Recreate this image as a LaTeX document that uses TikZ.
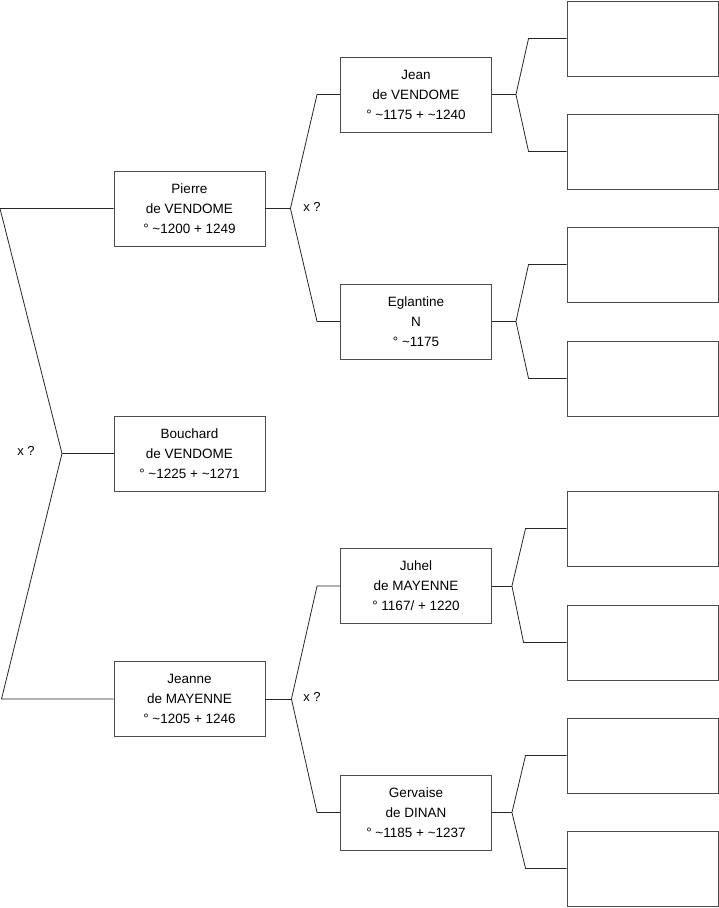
\documentclass[tikz,border=0pt]{standalone}
\usepackage{fontspec}
\setmainfont{Liberation Sans}
\begin{document}
\begin{tikzpicture}[x=1pt, y=-1pt,
    person/.style={draw=black!70, line width=0.9pt, minimum width=151pt, minimum height=75pt,
        inner sep=0pt, align=center, font=\fontsize{13.5}{20}\selectfont},
    link/.style={black!85, line width=0.8pt},
    couplemark/.style={font=\fontsize{13}{15}\selectfont}]
\useasboundingbox (0,0) rectangle (719,908);
% generation 1
\node[person] (bouchard) at (189.5,453.5) {Bouchard\\de VENDOME\\° \textasciitilde1225 + \textasciitilde1271};
% generation 2
\node[person] (pierre) at (189.5,208.5) {Pierre\\de VENDOME\\° \textasciitilde1200 + 1249};
\node[person] (jeanne) at (189.5,699) {Jeanne\\de MAYENNE\\° \textasciitilde1205 + 1246};
% generation 3
\node[person] (jean) at (416,94.5) {Jean\\de VENDOME\\° \textasciitilde1175 + \textasciitilde1240};
\node[person] (eglantine) at (416,321.5) {Eglantine\\N\\° \textasciitilde1175};
\node[person] (juhel) at (416,586) {Juhel\\de MAYENNE\\° 1167/ + 1220};
\node[person] (gervaise) at (416,812.5) {Gervaise\\de DINAN\\° \textasciitilde1185 + \textasciitilde1237};
% generation 4 (empty)
\node[person] (e1) at (642.5,38.5) {};
\node[person] (e2) at (642.5,151.5) {};
\node[person] (e3) at (642.5,264.5) {};
\node[person] (e4) at (642.5,378.5) {};
\node[person] (e5) at (642.5,528.5) {};
\node[person] (e6) at (642.5,642.5) {};
\node[person] (e7) at (642.5,755.5) {};
\node[person] (e8) at (642.5,868.5) {};
% couples
\node[couplemark] (m0) at (26,451) {x ?};
\node[couplemark] (m1) at (312,207) {x ?};
\node[couplemark] (m2) at (312,697) {x ?};
% parents of Bouchard
\coordinate (a0) at (0,208.5);
\coordinate (v0) at (62,453.5);
\coordinate (b0) at (1.5,699);
\draw[link] (pierre.west) -- (a0) -- (v0) -- (b0) -- (jeanne.west);
\draw[link] (v0) -- (bouchard.west);
% parents of Pierre
\coordinate (v1) at ([xshift=25pt]pierre.east);
\draw[link] (pierre.east) -- (v1);
\draw[link] (jean.west) -- ++(-23,0) -- (v1) -- ([xshift=-23pt]eglantine.west) -- (eglantine.west);
% parents of Jeanne
\coordinate (v2) at ([xshift=26pt]jeanne.east);
\draw[link] (jeanne.east) -- (v2);
\draw[link] (juhel.west) -- ++(-23,0) -- (v2) -- ([xshift=-23pt]gervaise.west) -- (gervaise.west);
% parents of Jean
\coordinate (v3) at ([xshift=24pt]jean.east);
\draw[link] (jean.east) -- (v3);
\draw[link] (e1.west) -- ++(-38,0) -- (v3) -- ([xshift=-38pt]e2.west) -- (e2.west);
% parents of Eglantine
\coordinate (v4) at ([xshift=24pt]eglantine.east);
\draw[link] (eglantine.east) -- (v4);
\draw[link] (e3.west) -- ++(-38,0) -- (v4) -- ([xshift=-38pt]e4.west) -- (e4.west);
% parents of Juhel
\coordinate (v5) at ([xshift=20pt]juhel.east);
\draw[link] (juhel.east) -- (v5);
\draw[link] (e5.west) -- ++(-41,0) -- (v5) -- ([xshift=-43pt]e6.west) -- (e6.west);
% parents of Gervaise
\coordinate (v6) at ([xshift=20pt]gervaise.east);
\draw[link] (gervaise.east) -- (v6);
\draw[link] (e7.west) -- ++(-41,0) -- (v6) -- ([xshift=-41pt]e8.west) -- (e8.west);
\end{tikzpicture}
\end{document}
